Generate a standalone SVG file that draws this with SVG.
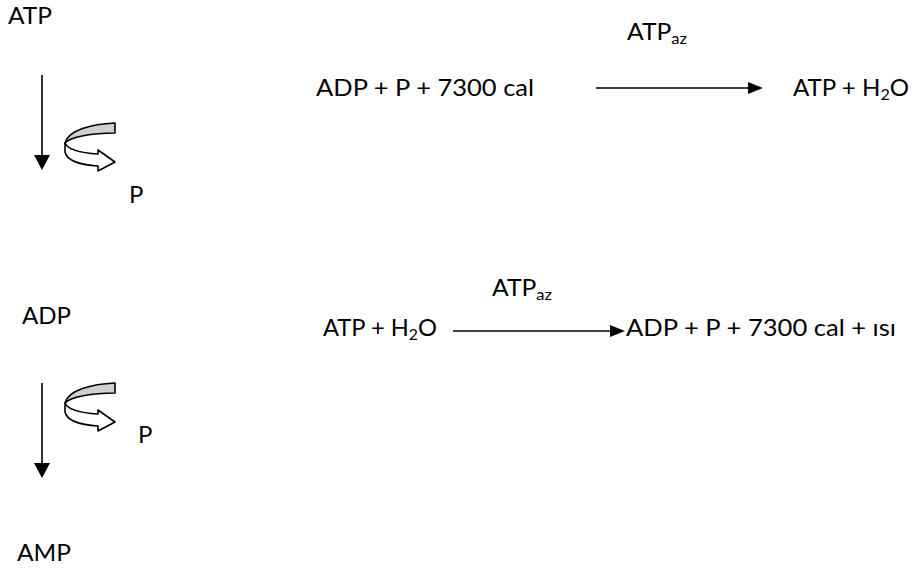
<svg xmlns="http://www.w3.org/2000/svg" width="918" height="571" viewBox="0 0 918 571">
<defs>
<style>
text{font-family:Lato,"Liberation Sans",sans-serif;font-size:24px;fill:#000}
.sub{font-size:16px}
.ln{stroke:#000;stroke-width:1.6;fill:none}
.hd{fill:#000}
.band{stroke:#000;stroke-width:1.6;stroke-linejoin:round}
</style>
<g id="curl">
<path class="band" fill="#d0d0d0" d="M115,123 C92,124 68,130 65,143 C70,137 92,133 115,133 Z"/>
<path class="band" fill="#fff" d="M65,143 L65,152 C67,161 82,165 98,166 L98,171 L115,162 L98,150 L98,154 C82,153 68,150 65,143 Z"/>
</g>
</defs>
<rect width="918" height="571" fill="#fff"/>
<g id="atp"><text x="8" y="24" textLength="44" lengthAdjust="spacingAndGlyphs">ATP</text></g>
<g id="p1"><text x="129" y="203">P</text></g>
<g id="adp"><text x="22" y="324" textLength="49" lengthAdjust="spacingAndGlyphs">ADP</text></g>
<g id="p2"><text x="138" y="443">P</text></g>
<g id="amp"><text x="17" y="561" textLength="54" lengthAdjust="spacingAndGlyphs">AMP</text></g>
<g id="curl1"><use href="#curl"/></g>
<g id="curl2"><use href="#curl" transform="translate(0,260)"/></g>
<g id="eq1-left"><text x="316" y="96" textLength="218" lengthAdjust="spacingAndGlyphs">ADP + P + 7300 cal</text></g>
<g id="eq1-enzyme"><text x="627" y="40" textLength="60" lengthAdjust="spacingAndGlyphs">ATP<tspan class="sub" dy="4">az</tspan></text></g>
<g id="eq1-right"><text x="793" y="96" textLength="116" lengthAdjust="spacingAndGlyphs">ATP + H<tspan class="sub" dy="4">2</tspan><tspan dy="-4">O</tspan></text></g>
<g id="eq2-left"><text x="323" y="336" textLength="114" lengthAdjust="spacingAndGlyphs">ATP + H<tspan class="sub" dy="4">2</tspan><tspan dy="-4">O</tspan></text></g>
<g id="eq2-enzyme"><text x="492" y="296" textLength="60" lengthAdjust="spacingAndGlyphs">ATP<tspan class="sub" dy="4">az</tspan></text></g>
<g id="eq2-right"><text x="626" y="336" textLength="270" lengthAdjust="spacingAndGlyphs">ADP + P + 7300 cal + ısı</text></g>
<g id="connectors">
<line class="ln" x1="42" y1="75" x2="42" y2="157"/>
<polygon class="hd" points="34,155 50,155 42,170"/>
<line class="ln" x1="42" y1="383" x2="42" y2="465"/>
<polygon class="hd" points="34,463 50,463 42,478"/>
<line class="ln" x1="596" y1="88" x2="750" y2="88"/>
<polygon class="hd" points="748,82 763,88 748,94"/>
<line class="ln" x1="453" y1="331" x2="612" y2="331"/>
<polygon class="hd" points="610,325 625,331 610,337"/>
</g>
</svg>
